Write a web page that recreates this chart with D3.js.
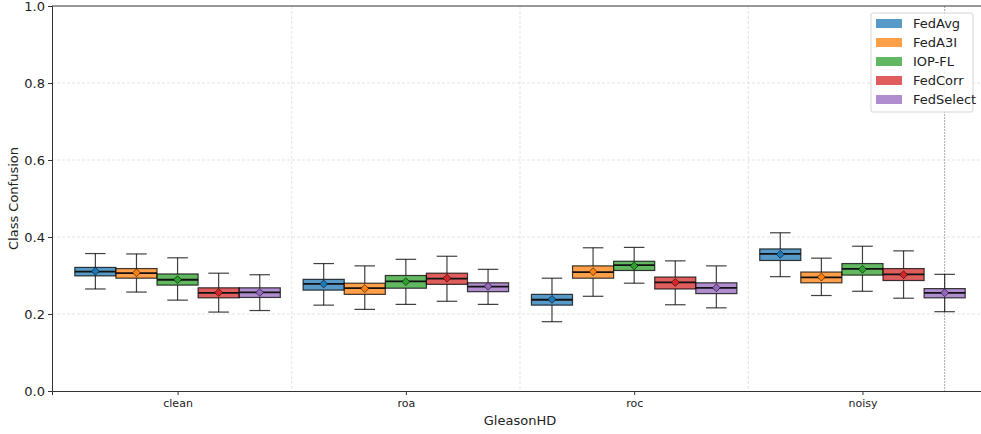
<!DOCTYPE html>
<html>
<head>
<meta charset="utf-8">
<script src="https://cdn.jsdelivr.net/npm/d3@7"></script>
<style>
  body { margin: 0; background: #fff; }
  text { font-family: "DejaVu Sans", sans-serif; }
</style>
</head>
<body>
<div id="chart"></div>
<script>
const conditions = ['clean', 'roa', 'roc', 'noisy'];
const methods = ['FedAvg', 'FedA3I', 'IOP-FL', 'FedCorr', 'FedSelect'];
const colors = ['#1f77b4', '#ff7f0e', '#2ca02c', '#d62728', '#9467bd'];
const yTicks = [0.0, 0.2, 0.4, 0.6, 0.8, 1.0];

// per method: one value per condition (clean, roa, roc, noisy)
const whiskerLow = [
  [0.265, 0.223, 0.180, 0.297],
  [0.257, 0.212, 0.246, 0.248],
  [0.236, 0.225, 0.280, 0.259],
  [0.205, 0.233, 0.224, 0.241],
  [0.209, 0.225, 0.216, 0.206]
];
const q1 = [
  [0.299, 0.262, 0.223, 0.339],
  [0.293, 0.251, 0.293, 0.281],
  [0.275, 0.267, 0.313, 0.301],
  [0.242, 0.277, 0.265, 0.287],
  [0.243, 0.258, 0.253, 0.242]
];
const medians = [
  [0.310, 0.278, 0.237, 0.356],
  [0.306, 0.267, 0.309, 0.295],
  [0.289, 0.285, 0.327, 0.317],
  [0.255, 0.292, 0.282, 0.303],
  [0.256, 0.271, 0.268, 0.255]
];
const means = [
  [0.311, 0.278, 0.238, 0.355],
  [0.307, 0.266, 0.310, 0.296],
  [0.289, 0.284, 0.325, 0.316],
  [0.256, 0.293, 0.282, 0.302],
  [0.256, 0.272, 0.268, 0.255]
];
const q3 = [
  [0.321, 0.290, 0.251, 0.369],
  [0.318, 0.280, 0.325, 0.309],
  [0.304, 0.300, 0.337, 0.331],
  [0.268, 0.306, 0.296, 0.318],
  [0.268, 0.281, 0.281, 0.266]
];
const whiskerHigh = [
  [0.357, 0.331, 0.293, 0.411],
  [0.356, 0.325, 0.372, 0.345],
  [0.346, 0.342, 0.373, 0.376],
  [0.306, 0.350, 0.338, 0.364],
  [0.302, 0.316, 0.325, 0.303]
];

const width = 981, height = 434;
const plotLeft = 52, plotTop = 6, plotBottom = 391;
const boxW = 0.18;

const svg = d3.select('#chart').append('svg')
  .attr('width', width).attr('height', height);

const x = d3.scaleLinear().domain([-0.55, 3.55]).range([plotLeft, plotLeft + 4.1 * 228.3]);
const y = d3.scaleLinear().domain([0, 1]).range([plotBottom, plotTop]);

// grid
svg.append('g').selectAll('line').data(yTicks.slice(1, 5)).enter().append('line')
  .attr('x1', plotLeft).attr('x2', width)
  .attr('y1', d => y(d)).attr('y2', d => y(d))
  .attr('stroke', '#dcdcdc').attr('stroke-width', 0.8).attr('stroke-dasharray', '3,2');

svg.append('g').selectAll('line').data([0.5, 1.5, 2.5]).enter().append('line')
  .attr('x1', d => x(d)).attr('x2', d => x(d))
  .attr('y1', plotTop).attr('y2', plotBottom)
  .attr('stroke', '#dcdcdc').attr('stroke-width', 0.8).attr('stroke-dasharray', '3,2');

// the darker vertical line at the last box
svg.append('line')
  .attr('x1', x(3 + 2 * boxW)).attr('x2', x(3 + 2 * boxW))
  .attr('y1', plotTop).attr('y2', plotBottom)
  .attr('stroke', '#aaaaaa').attr('stroke-width', 1).attr('stroke-dasharray', '2,1');

// boxes
methods.forEach((m, mi) => {
  const g = svg.append('g');
  conditions.forEach((c, ci) => {
    const cx = ci + (mi - 2) * boxW;
    const left = x(cx - boxW / 2), right = x(cx + boxW / 2);
    const capL = x(cx - boxW / 4), capR = x(cx + boxW / 4);
    const stroke = 'rgba(0,0,0,0.75)';

    g.append('line').attr('x1', x(cx)).attr('x2', x(cx))
      .attr('y1', y(q3[mi][ci])).attr('y2', y(whiskerHigh[mi][ci]))
      .attr('stroke', stroke).attr('stroke-width', 1.2);
    g.append('line').attr('x1', x(cx)).attr('x2', x(cx))
      .attr('y1', y(q1[mi][ci])).attr('y2', y(whiskerLow[mi][ci]))
      .attr('stroke', stroke).attr('stroke-width', 1.2);
    g.append('line').attr('x1', capL).attr('x2', capR)
      .attr('y1', y(whiskerHigh[mi][ci])).attr('y2', y(whiskerHigh[mi][ci]))
      .attr('stroke', stroke).attr('stroke-width', 1.2);
    g.append('line').attr('x1', capL).attr('x2', capR)
      .attr('y1', y(whiskerLow[mi][ci])).attr('y2', y(whiskerLow[mi][ci]))
      .attr('stroke', stroke).attr('stroke-width', 1.2);

    g.append('rect')
      .attr('x', left).attr('width', right - left)
      .attr('y', y(q3[mi][ci])).attr('height', y(q1[mi][ci]) - y(q3[mi][ci]))
      .attr('fill', colors[mi]).attr('fill-opacity', 0.75)
      .attr('stroke', stroke).attr('stroke-width', 1.2);

    g.append('line').attr('x1', left).attr('x2', right)
      .attr('y1', y(medians[mi][ci])).attr('y2', y(medians[mi][ci]))
      .attr('stroke', '#111').attr('stroke-width', 1.8);

    g.append('path')
      .attr('d', d3.symbol().type(d3.symbolDiamond2).size(40)())
      .attr('transform', `translate(${x(cx)},${y(means[mi][ci])})`)
      .attr('fill', colors[mi]).attr('stroke', 'rgba(0,0,0,0.7)').attr('stroke-width', 0.8);
  });
});

// axes
const yAxis = svg.append('g').attr('transform', `translate(${plotLeft},0)`)
  .call(d3.axisLeft(y).tickValues(yTicks).tickFormat(d3.format('.1f')).tickSize(4).tickPadding(3));
yAxis.select('.domain').attr('stroke', '#333');
yAxis.selectAll('.tick line').attr('stroke', '#333');
yAxis.selectAll('text').attr('font-size', 13).attr('fill', '#222');

const xAxis = svg.append('g').attr('transform', `translate(0,${plotBottom})`)
  .call(d3.axisBottom(x).tickValues([0, 1, 2, 3]).tickFormat(i => conditions[i]).tickSize(4).tickPadding(4));
xAxis.select('.domain').attr('stroke', '#333');
xAxis.selectAll('.tick line').attr('stroke', '#333');
xAxis.selectAll('text').attr('font-size', 11).attr('fill', '#222');

svg.append('line').attr('x1', plotLeft).attr('x2', width)
  .attr('y1', plotTop).attr('y2', plotTop).attr('stroke', '#333');

svg.append('text').attr('x', x(1.5)).attr('y', 425)
  .attr('text-anchor', 'middle').attr('font-size', 13).attr('fill', '#222').text('GleasonHD');
svg.append('text').attr('transform', `translate(18,${(plotTop + plotBottom) / 2}) rotate(-90)`)
  .attr('text-anchor', 'middle').attr('font-size', 13).attr('fill', '#222').text('Class Confusion');

// legend
const lg = svg.append('g').attr('transform', 'translate(871,13)');
lg.append('rect').attr('width', 102).attr('height', 99).attr('rx', 2)
  .attr('fill', '#fff').attr('fill-opacity', 0.85).attr('stroke', '#d5d5d5');
methods.forEach((m, i) => {
  lg.append('rect').attr('x', 5).attr('y', 6 + i * 19).attr('width', 26).attr('height', 9)
    .attr('fill', colors[i]).attr('fill-opacity', 0.75);
  lg.append('text').attr('x', 42).attr('y', 15 + i * 19)
    .attr('font-size', 13).attr('fill', '#222').text(m);
});
</script>
</body>
</html>
